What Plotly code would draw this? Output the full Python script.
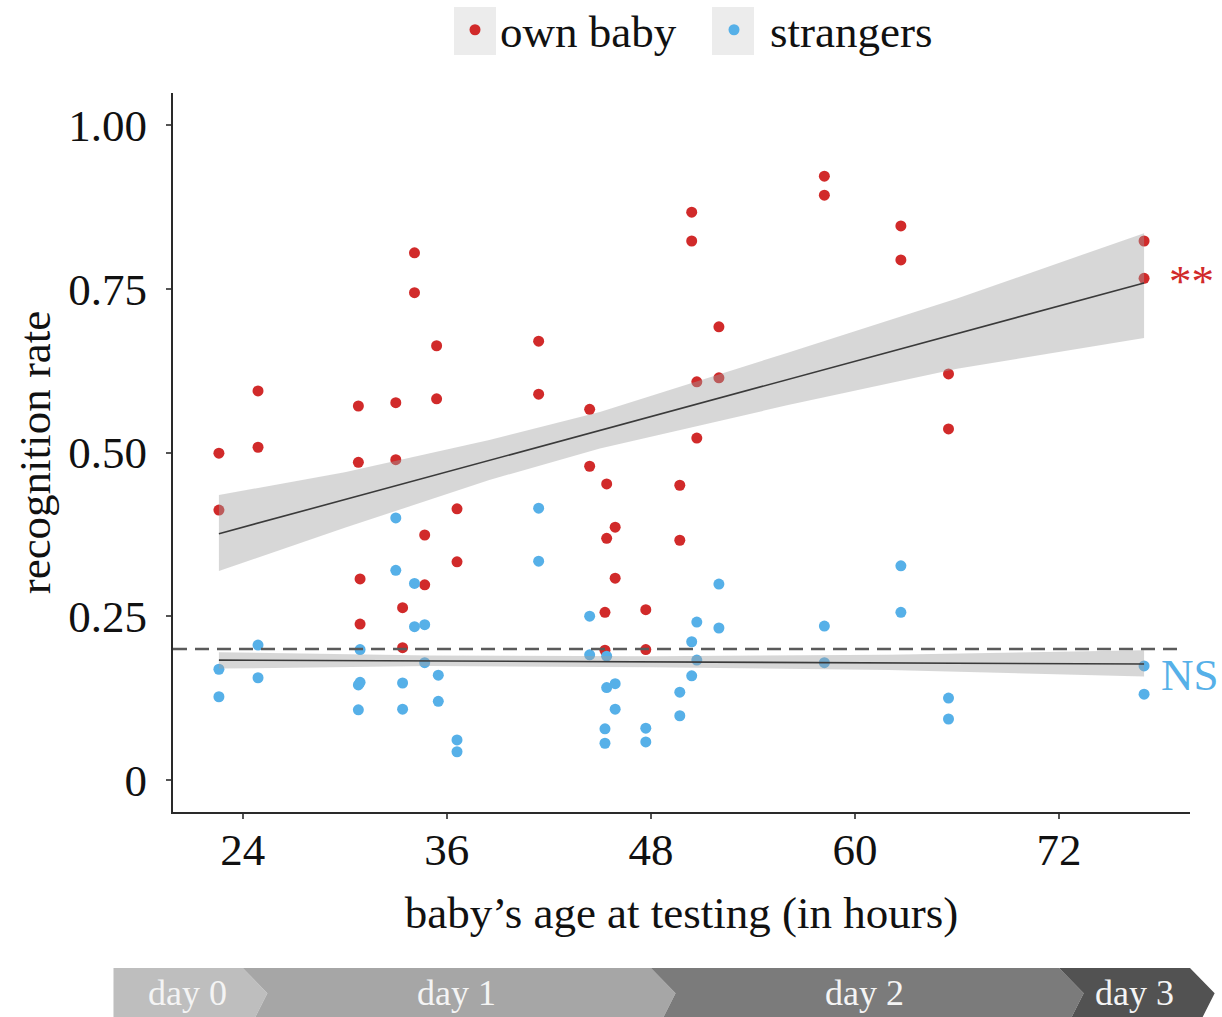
import plotly.graph_objects as go

# ---------------- data ----------------
own_age = [22.6, 22.6, 24.9, 24.9, 30.8, 30.8, 30.9, 30.9, 33.0, 33.0, 33.4, 33.4,
           34.1, 34.1, 34.7, 34.7, 35.4, 35.4, 36.6, 36.6, 41.4, 41.4, 44.4, 44.4,
           45.4, 45.4, 45.9, 45.9, 45.3, 45.3, 47.7, 47.7, 49.7, 49.7, 50.4, 50.4,
           50.7, 50.7, 52.0, 52.0, 58.2, 58.2, 62.7, 62.7, 65.5, 65.5, 77.0, 77.0]
own_rate = [0.499, 0.412, 0.594, 0.508, 0.571, 0.485, 0.307, 0.238, 0.576, 0.489, 0.263, 0.202,
            0.805, 0.744, 0.374, 0.298, 0.663, 0.582, 0.414, 0.333, 0.670, 0.589, 0.566, 0.479,
            0.452, 0.369, 0.386, 0.308, 0.256, 0.198, 0.260, 0.199, 0.450, 0.366, 0.867, 0.823,
            0.608, 0.522, 0.692, 0.614, 0.922, 0.893, 0.846, 0.794, 0.620, 0.536, 0.823, 0.766]

str_age = [22.6, 22.6, 24.9, 24.9, 30.9, 30.8, 30.9, 30.8, 33.0, 33.0, 33.4, 33.4,
           34.1, 34.1, 34.7, 34.7, 35.5, 35.5, 36.6, 36.6, 41.4, 41.4, 44.4, 44.4,
           45.4, 45.4, 45.9, 45.9, 45.3, 45.3, 47.7, 47.7, 49.7, 49.7, 50.4, 50.4,
           50.7, 50.7, 52.0, 52.0, 58.2, 58.2, 62.7, 62.7, 65.5, 65.5, 77.0, 77.0]
str_rate = [0.169, 0.127, 0.206, 0.156, 0.199, 0.145, 0.149, 0.107, 0.400, 0.320, 0.148, 0.108,
            0.300, 0.234, 0.237, 0.179, 0.160, 0.120, 0.061, 0.043, 0.415, 0.334, 0.250, 0.191,
            0.189, 0.141, 0.147, 0.108, 0.078, 0.056, 0.079, 0.058, 0.134, 0.098, 0.211, 0.159,
            0.241, 0.183, 0.299, 0.232, 0.235, 0.179, 0.327, 0.256, 0.125, 0.093, 0.174, 0.131]

fit_age = [22.6, 77.0]
own_fit = [0.376, 0.759]
str_fit = [0.183, 0.177]

own_band_age = [22.6, 30.0, 38.5, 45.0, 56.0, 66.0, 77.0]
own_band_hi = [0.435, 0.470, 0.519, 0.562, 0.652, 0.735, 0.835]
own_band_lo = [0.319, 0.385, 0.458, 0.506, 0.572, 0.628, 0.675]

str_band_age = [22.6, 35.0, 48.0, 62.0, 77.0]
str_band_hi = [0.195, 0.190, 0.189, 0.191, 0.198]
str_band_lo = [0.170, 0.174, 0.172, 0.168, 0.158]

chance_level = 0.2

x_ticks = [24, 36, 48, 60, 72]
y_ticks = [0, 0.25, 0.5, 0.75, 1.0]
y_ticklabels = ["0", "0.25", "0.50", "0.75", "1.00"]

day_labels = ["day 0", "day 1", "day 2", "day 3"]
day_bounds = [16.4, 24, 48, 72, 79.7]   # hours
day_colors = ["#bebebe", "#a6a6a6", "#7b7b7b", "#525252"]

# ---------------- style ----------------
RED = "#d12a2a"
BLUE = "#56b0e8"
FONT = "Liberation Serif"
X_RANGE = [19.9, 79.7]
Y_RANGE = [-0.049, 1.049]
M_L, M_R, M_T, M_B = 173, 32, 93, 205
W, H = 1222, 1017
PW, PH = W - M_L - M_R, H - M_T - M_B


def px_x(px):   # figure pixel -> paper x
    return (px - M_L) / PW


def px_y(py):   # figure pixel -> paper y
    return (H - M_B - py) / PH


def xp(h):      # hours -> paper x
    return (h - X_RANGE[0]) / (X_RANGE[1] - X_RANGE[0])


fig = go.Figure()

fig.add_trace(go.Scatter(x=own_age, y=own_rate, mode="markers", name="own baby",
                         legend="legend",
                         marker=dict(color=RED, size=11, line=dict(width=0))))
fig.add_trace(go.Scatter(x=str_age, y=str_rate, mode="markers", name="strangers",
                         legend="legend2",
                         marker=dict(color=BLUE, size=11, line=dict(width=0))))

# confidence bands (drawn over points, semi transparent like ggplot)
for ages, hi, lo in [(own_band_age, own_band_hi, own_band_lo),
                     (str_band_age, str_band_hi, str_band_lo)]:
    fig.add_trace(go.Scatter(x=ages + ages[::-1], y=hi + lo[::-1], mode="lines",
                             fill="toself", fillcolor="rgba(160,160,160,0.42)",
                             line=dict(width=0), hoverinfo="skip", showlegend=False))

for fit in [own_fit, str_fit]:
    fig.add_trace(go.Scatter(x=fit_age, y=fit, mode="lines",
                             line=dict(color="#3a3a3a", width=1.6),
                             hoverinfo="skip", showlegend=False))

# chance level dashed line
fig.add_shape(type="line", xref="x", yref="y", x0=X_RANGE[0], x1=79.0,
              y0=chance_level, y1=chance_level, layer="above",
              line=dict(color="#5a5a5a", width=2.6, dash="14px,8px"))

# grey legend key backgrounds (ggplot style)
for bx in [454, 712]:
    fig.add_shape(type="rect", xref="paper", yref="paper",
                  x0=px_x(bx), x1=px_x(bx + 42), y0=px_y(55), y1=px_y(7),
                  fillcolor="#ececec", line=dict(width=0), layer="below")

# day chevrons below the x axis
tip = 1.45
y_top, y_bot, y_mid = -0.217, -0.32, -0.252
for i, lab in enumerate(day_labels):
    s, e = day_bounds[i], day_bounds[i + 1]
    pts = [(xp(s), y_bot), (xp(e), y_bot), (xp(e + tip), y_mid),
           (xp(e), y_top), (xp(s), y_top)]
    if i > 0:
        pts.append((xp(s + tip), y_mid))
    path = "M " + " L ".join(f"{a:.5f},{b:.5f}" for a, b in pts) + " Z"
    fig.add_shape(type="path", xref="paper", yref="paper", path=path,
                  fillcolor=day_colors[i], line=dict(width=0), layer="below")
    fig.add_annotation(x=xp((s + e) / 2 + tip * 0.4), y=y_mid, xref="paper", yref="paper",
                       text=lab, showarrow=False,
                       font=dict(family=FONT, size=36, color="#f4f4f4"),
                       xanchor="center", yanchor="middle")

# significance labels
fig.add_annotation(x=xp(79.8), y=0.762, xref="paper", yref="y", text="**",
                   showarrow=False, xanchor="center", yanchor="middle",
                   font=dict(family=FONT, size=45, color=RED))
fig.add_annotation(x=xp(79.7), y=0.160, xref="paper", yref="y", text="NS",
                   showarrow=False, xanchor="center", yanchor="middle",
                   font=dict(family=FONT, size=45, color=BLUE))

legend_common = dict(orientation="h", xanchor="left", yanchor="middle", y=px_y(30),
                     bgcolor="rgba(0,0,0,0)",
                     font=dict(family=FONT, size=45, color="#111111"))

fig.update_layout(
    width=W, height=H,
    margin=dict(l=M_L, r=M_R, t=M_T, b=M_B, autoexpand=False),
    paper_bgcolor="white", plot_bgcolor="white",
    font=dict(family=FONT, size=45, color="#111111"),
    showlegend=True,
    legend=dict(x=px_x(450), itemwidth=40, **legend_common),
    legend2=dict(x=px_x(698), itemwidth=62, **legend_common),
    xaxis=dict(range=X_RANGE, tickvals=x_ticks, showgrid=False, zeroline=False,
               showline=True, linecolor="#2a2a2a", linewidth=2,
               ticks="outside", ticklen=5, tickwidth=2, tickcolor="#555555",
               ticklabelstandoff=-8,
               tickfont=dict(family=FONT, size=45, color="#111111"),
               title=dict(text="baby’s age at testing (in hours)", standoff=22,
                          font=dict(family=FONT, size=45, color="#111111"))),
    yaxis=dict(range=Y_RANGE, tickvals=y_ticks, ticktext=y_ticklabels, showgrid=False,
               zeroline=False, showline=True, linecolor="#2a2a2a", linewidth=2,
               ticks="outside", ticklen=5, tickwidth=2, tickcolor="#555555",
               ticklabelstandoff=10,
               tickfont=dict(family=FONT, size=45, color="#111111"),
               title=dict(text="recognition rate", standoff=4,
                          font=dict(family=FONT, size=45, color="#111111"))),
)

fig.write_html("out.html", config={"displayModeBar": False},
               post_script="document.body.style.margin='0';document.body.style.overflow='hidden';")
